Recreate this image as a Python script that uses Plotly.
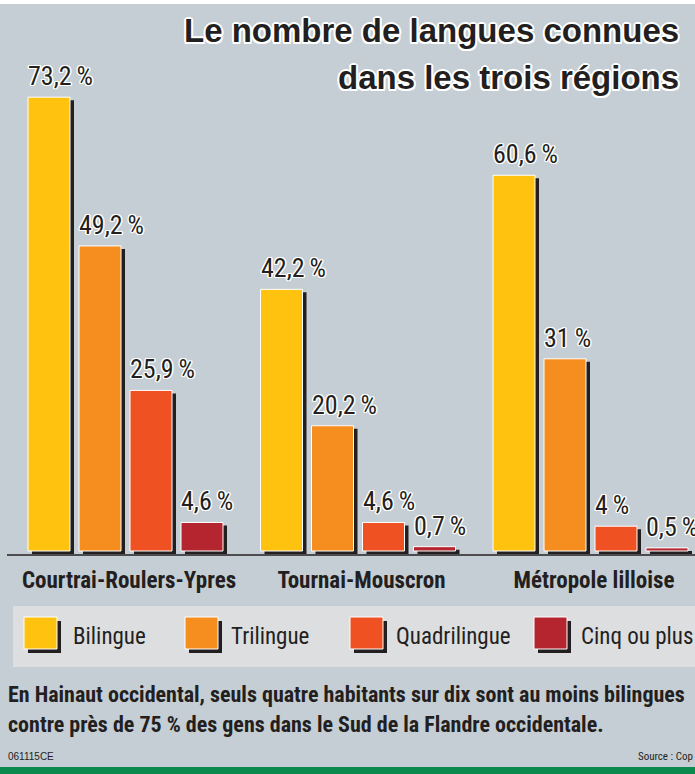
import plotly.graph_objects as go

# ---------------- data ----------------
regions = ["Courtrai-Roulers-Ypres", "Tournai-Mouscron", "Métropole lilloise"]
series_names = ["Bilingue", "Trilingue", "Quadrilingue", "Cinq ou plus"]
bilingue = [73.2, 42.2, 60.6]
trilingue = [49.2, 20.2, 31.0]
quadrilingue = [25.9, 4.6, 4.0]
cinq_ou_plus = [4.6, 0.7, 0.5]
series_values = [bilingue, trilingue, quadrilingue, cinq_ou_plus]
series_colors = ["#FFC20E", "#F68D1F", "#F05123", "#B5252F"]

title_lines = ["Le nombre de langues connues", "dans les trois régions"]
footer_lines = [
    "En Hainaut occidental, seuls quatre habitants sur dix sont au moins bilingues",
    "contre près de 75 % des gens dans le Sud de la Flandre occidentale.",
]
code_text = "061115CE"
source_text = "Source : Cop"

# ---------------- layout helpers ----------------
W, H = 695, 774
BG = "#C5CED4"
INK = "#231F20"
COND = "Roboto Condensed, Open Sans Condensed, DejaVu Sans Condensed, sans-serif"
WIDE = "Liberation Sans, Arial, sans-serif"
HALO1 = ("1px 1px 0 #fff, -1px -1px 0 #fff, 1px -1px 0 #fff, -1px 1px 0 #fff, "
         "1.4px 0 0 #fff, -1.4px 0 0 #fff, 0 1.4px 0 #fff, 0 -1.4px 0 #fff")
HALO2 = ("2px 0 0 #fff, -2px 0 0 #fff, 0 2px 0 #fff, 0 -2px 0 #fff, "
         "1.5px 1.5px 0 #fff, -1.5px -1.5px 0 #fff, 1.5px -1.5px 0 #fff, -1.5px 1.5px 0 #fff")


def px(x):
    return x / W


def py(y):
    return 1 - y / H


UNIT = 232.5           # pixels per category
C0 = 125               # pixel of first category centre
PXY = 6.2              # pixels per percent
Y0 = 551               # pixel of value 0
YMIN, YMAX = -1.5, 80
BW = 42 / UNIT
STEP = 51 / UNIT
FIRST = -97 / UNIT


def fmt(v):
    return f"{v:g}".replace(".", ",") + "\u2009%"


fig = go.Figure()
xs = list(range(len(regions)))

# shadows
for i, vals in enumerate(series_values):
    fig.add_trace(go.Bar(
        x=xs, y=vals, base=[-3 / PXY] * len(vals),
        offset=FIRST + i * STEP + 4 / UNIT, width=BW,
        marker=dict(color=INK, line=dict(width=0)),
        showlegend=False, hoverinfo="skip"))

# bars
for i, (name, vals) in enumerate(zip(series_names, series_values)):
    fig.add_trace(go.Bar(
        x=xs, y=vals, name=name,
        offset=FIRST + i * STEP, width=BW,
        marker=dict(color=series_colors[i], line=dict(color="white", width=1)),
        showlegend=False))

annotations = []
# value labels
for i, vals in enumerate(series_values):
    for j, v in enumerate(vals):
        annotations.append(dict(
            x=j + FIRST + i * STEP, y=v, xref="x", yref="y",
            text=fmt(v), showarrow=False, xanchor="left", yanchor="bottom",
            xshift=-2, yshift=4,
            font=dict(family=COND, size=26, color=INK, shadow=HALO1)))

# title
annotations.append(dict(x=px(681), y=py(31), xref="paper", yref="paper",
                        text=title_lines[0], showarrow=False, xanchor="right", yanchor="middle",
                        font=dict(family=WIDE, size=33, weight=700, color=INK, shadow=HALO2)))
annotations.append(dict(x=px(681), y=py(77), xref="paper", yref="paper",
                        text=title_lines[1], showarrow=False, xanchor="right", yanchor="middle",
                        font=dict(family=WIDE, size=33, weight=700, color=INK, shadow=HALO2)))

shapes = []
# top white strip & bottom green strip
shapes.append(dict(type="rect", xref="paper", yref="paper", x0=0, x1=1, y0=py(4), y1=1,
                   fillcolor="white", line=dict(width=0), layer="below"))
shapes.append(dict(type="rect", xref="paper", yref="paper", x0=0, x1=1, y0=0, y1=py(767),
                   fillcolor="#0B8A4E", line=dict(width=0)))
# baseline
shapes.append(dict(type="line", xref="paper", yref="paper", x0=px(7), x1=1,
                   y0=py(555), y1=py(555), line=dict(color=INK, width=1.5)))

# legend box
shapes.append(dict(type="rect", xref="paper", yref="paper", x0=px(13), x1=1,
                   y0=py(667), y1=py(606), fillcolor="#DCDEE0", line=dict(width=0)))
sw_x = [24, 185, 350, 534]
tx_x = [71, 229, 394, 579]
for i, name in enumerate(series_names):
    x0 = sw_x[i]
    shapes.append(dict(type="rect", xref="paper", yref="paper",
                       x0=px(x0 + 4), x1=px(x0 + 37), y0=py(653), y1=py(621),
                       fillcolor=INK, line=dict(width=0)))
    shapes.append(dict(type="rect", xref="paper", yref="paper",
                       x0=px(x0), x1=px(x0 + 33), y0=py(649), y1=py(617),
                       fillcolor=series_colors[i], line=dict(color="white", width=1)))
    annotations.append(dict(x=px(tx_x[i]), y=py(636), xref="paper", yref="paper",
                            text=name, showarrow=False, xanchor="left", yanchor="middle",
                            font=dict(family=COND, size=23, color=INK)))

# footer
annotations.append(dict(x=px(6), y=py(694), xref="paper", yref="paper", text=footer_lines[0],
                        showarrow=False, xanchor="left", yanchor="middle",
                        font=dict(family=COND, size=22, weight=700, color=INK)))
annotations.append(dict(x=px(6), y=py(724), xref="paper", yref="paper", text=footer_lines[1],
                        showarrow=False, xanchor="left", yanchor="middle",
                        font=dict(family=COND, size=22, weight=700, color=INK)))
annotations.append(dict(x=px(6), y=py(756), xref="paper", yref="paper", text=code_text,
                        showarrow=False, xanchor="left", yanchor="middle",
                        font=dict(family=WIDE, size=10, color=INK)))
annotations.append(dict(x=1, y=py(756), xref="paper", yref="paper", text=source_text,
                        showarrow=False, xanchor="right", yanchor="middle",
                        font=dict(family=COND, size=11, color=INK)))

fig.update_layout(
    width=W, height=H,
    margin=dict(l=0, r=0, t=0, b=0),
    paper_bgcolor=BG, plot_bgcolor=BG,
    barmode="overlay",
    showlegend=False,
    annotations=annotations,
    shapes=shapes,
    xaxis=dict(range=[-C0 / UNIT, (W - C0) / UNIT], domain=[0, 1],
               tickvals=xs, ticktext=regions, showgrid=False, zeroline=False,
               showline=False, ticks="", ticklabelstandoff=4, ticklabelshift=4,
               ticklabeloverflow="allow",
               tickfont=dict(family=COND, size=23, weight=700, color=INK)),
    yaxis=dict(range=[YMIN, YMAX],
               domain=[1 - (Y0 - YMIN * PXY) / H, 1 - (Y0 - YMAX * PXY) / H],
               visible=False),
)

fig.write_html("out.html")
